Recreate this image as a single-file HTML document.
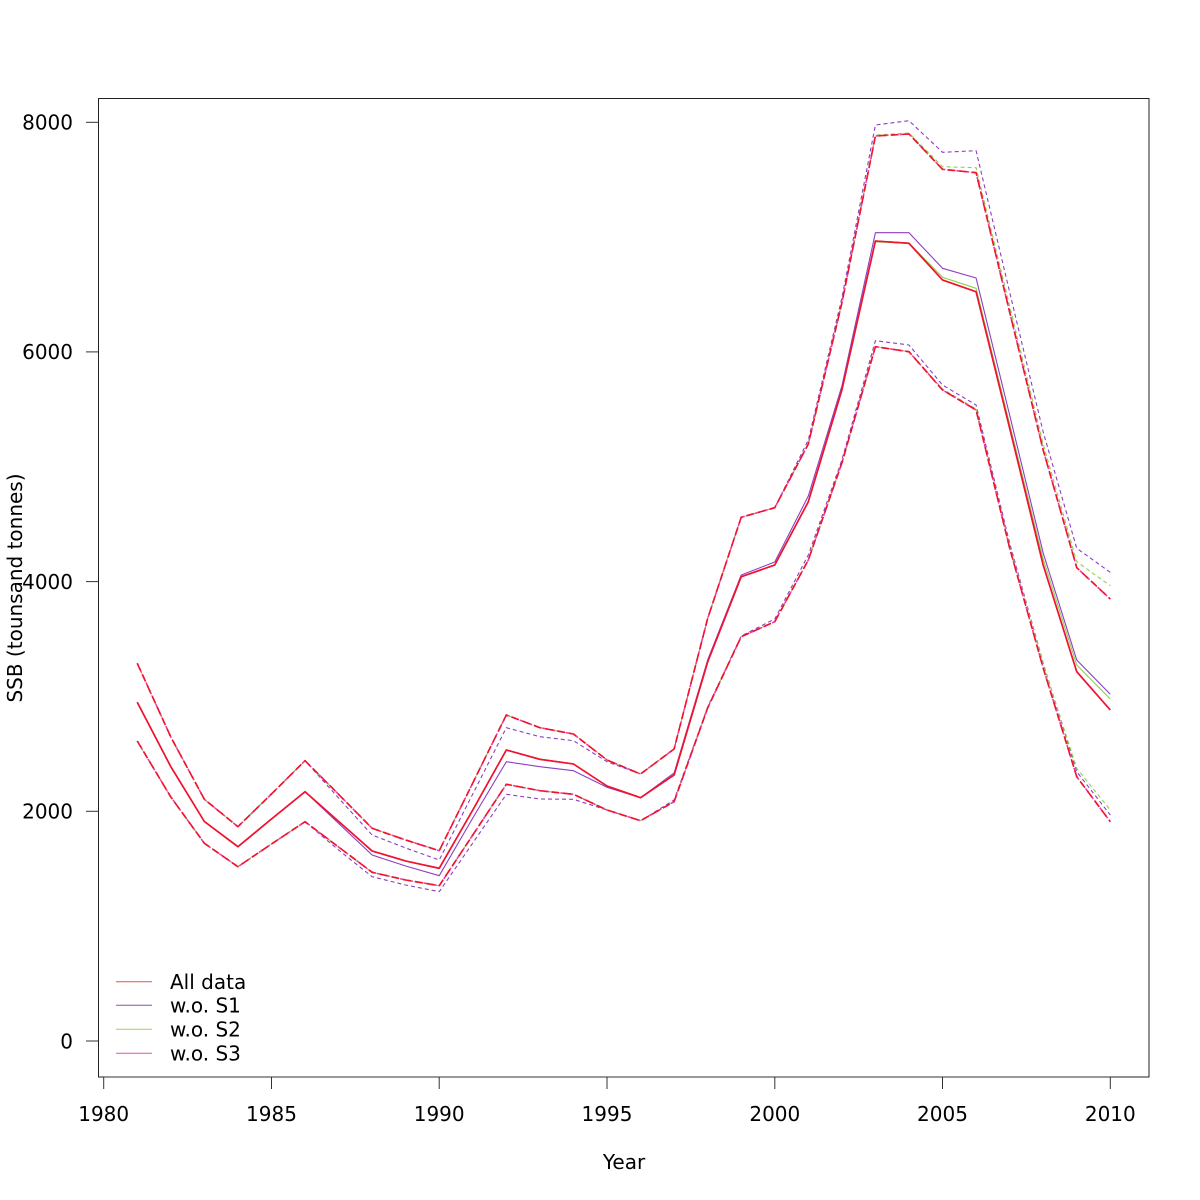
<!DOCTYPE html>
<html>
<head>
<meta charset="utf-8">
<style>
  html,body{margin:0;padding:0;background:#fff;}
  svg{display:block;}
  text{font-family:"DejaVu Sans","Liberation Sans",sans-serif;font-size:20px;fill:#000;}
</style>
</head>
<body>
<svg width="1200" height="1200" viewBox="0 0 1200 1200" xmlns="http://www.w3.org/2000/svg">
  <rect x="0" y="0" width="1200" height="1200" fill="#fff"/>

  <!-- plot box -->
  <rect x="98.5" y="98.5" width="1050.5" height="978.5" fill="none" stroke="#222" stroke-width="1"/>

  <!-- y ticks -->
  <g stroke="#333" stroke-width="1">
    <line x1="86" y1="1041" x2="98.5" y2="1041"/>
    <line x1="86" y1="811.3" x2="98.5" y2="811.3"/>
    <line x1="86" y1="581.6" x2="98.5" y2="581.6"/>
    <line x1="86" y1="351.9" x2="98.5" y2="351.9"/>
    <line x1="86" y1="122.3" x2="98.5" y2="122.3"/>
  </g>
  <g text-anchor="end">
    <text x="73" y="1048.3">0</text>
    <text x="73" y="818.6">2000</text>
    <text x="73" y="588.9">4000</text>
    <text x="73" y="359.2">6000</text>
    <text x="73" y="129.6">8000</text>
  </g>

  <!-- x axis -->
  <g stroke="#333" stroke-width="1">
    <line x1="103.7" y1="1077" x2="1110.3" y2="1077"/>
    <line x1="103.7" y1="1077" x2="103.7" y2="1089"/>
    <line x1="271.5" y1="1077" x2="271.5" y2="1089"/>
    <line x1="439.2" y1="1077" x2="439.2" y2="1089"/>
    <line x1="607" y1="1077" x2="607" y2="1089"/>
    <line x1="774.8" y1="1077" x2="774.8" y2="1089"/>
    <line x1="942.5" y1="1077" x2="942.5" y2="1089"/>
    <line x1="1110.3" y1="1077" x2="1110.3" y2="1089"/>
  </g>
  <g text-anchor="middle">
    <text x="103.7" y="1121">1980</text>
    <text x="271.5" y="1121">1985</text>
    <text x="439.2" y="1121">1990</text>
    <text x="607" y="1121">1995</text>
    <text x="774.8" y="1121">2000</text>
    <text x="942.5" y="1121">2005</text>
    <text x="1110.3" y="1121">2010</text>
  </g>

  <text x="624" y="1169" text-anchor="middle">Year</text>
  <text x="0" y="0" text-anchor="middle" transform="translate(22,588) rotate(-90)">SSB (tounsand tonnes)</text>

  <g fill="none" stroke-linejoin="round">
    <!-- w.o. S1 (purple) -->
    <g stroke="#8b3fc4" stroke-width="1.1">
      <polyline stroke-dasharray="4,3" points="137.25,663.3 170.81,737 204.36,799.3 237.91,826.7 271.47,794 305.02,760.7 338.57,798 372.12,835 405.68,848 439.23,860 472.78,794 506.34,727.7 539.89,736.7 573.44,740.7 607,761.7 640.55,774 674.1,749 707.65,618.5 741.21,517.3 774.76,507.7 808.31,440 841.87,298 875.42,125 908.97,120.7 942.53,152.3 976.08,150.7 1009.63,292 1043.18,432 1076.74,548.3 1110.29,572.3"/>
      <polyline points="137.25,702.3 170.81,766.7 204.36,821.5 237.91,846.7 271.47,819 305.02,791.7 338.57,823.3 372.12,855 405.68,866 439.23,875.7 472.78,818 506.34,761.7 539.89,766.7 573.44,770.7 607,787.3 640.55,797.7 674.1,773 707.65,660 741.21,575 774.76,562 808.31,496 841.87,386 875.42,232.7 908.97,232.7 942.53,268.3 976.08,278 1009.63,415 1043.18,553 1076.74,660 1110.29,694.3"/>
      <polyline stroke-dasharray="4,3" points="137.25,741 170.81,797 204.36,843.3 237.91,866.7 271.47,844 305.02,821.7 338.57,850 372.12,876.7 405.68,885 439.23,891.7 472.78,843 506.34,794.3 539.89,799 573.44,799.3 607,810 640.55,820.7 674.1,800 707.65,707 741.21,636 774.76,619 808.31,555 841.87,460 875.42,340.7 908.97,345 942.53,385 976.08,405 1009.63,543 1043.18,663 1076.74,771.7 1110.29,815"/>
    </g>
    <!-- w.o. S2 (green) -->
    <g stroke="#8fd14f" stroke-width="1.1">
      <polyline stroke-dasharray="4,3" points="137.25,663.3 170.81,737 204.36,799.3 237.91,826.7 271.47,794 305.02,760.7 338.57,794.3 372.12,828.3 405.68,840 439.23,850.7 472.78,783 506.34,715 539.89,727.7 573.44,734 607,760 640.55,774 674.1,749 707.65,618.5 741.21,517.3 774.76,507.7 808.31,444 841.87,303 875.42,135 908.97,133 942.53,166.7 976.08,167.7 1009.63,306 1043.18,444 1076.74,561.7 1110.29,585.7"/>
      <polyline points="137.25,702.3 170.81,766.7 204.36,821.5 237.91,846.7 271.47,819 305.02,791.7 338.57,821.3 372.12,851 405.68,861 439.23,868.3 472.78,810 506.34,750 539.89,759.3 573.44,764 607,786 640.55,797.7 674.1,775 707.65,662 741.21,576.7 774.76,565 808.31,501.7 841.87,390 875.42,242 908.97,243 942.53,277.3 976.08,288.3 1009.63,424 1043.18,559 1076.74,665 1110.29,699"/>
      <polyline stroke-dasharray="4,3" points="137.25,741 170.81,797 204.36,843.3 237.91,866.7 271.47,844 305.02,821.7 338.57,847 372.12,872.3 405.68,880 439.23,885.7 472.78,835 506.34,784.3 539.89,790.7 573.44,794.3 607,810 640.55,820.7 674.1,801.7 707.65,708 741.21,636.7 774.76,621.7 808.31,560 841.87,463 875.42,346.7 908.97,351.7 942.53,389 976.08,409 1009.63,546 1043.18,664 1076.74,768.3 1110.29,810"/>
    </g>
    <!-- w.o. S3 (pink) -->
    <g stroke="#f03ca0" stroke-width="1.6">
      <polyline stroke-dasharray="5,3" stroke-dashoffset="3" points="137.25,663.3 170.81,737 204.36,799.3 237.91,826.7 271.47,794 305.02,760.7 338.57,794.3 372.12,828.3 405.68,840 439.23,850.7 472.78,783 506.34,715 539.89,727.7 573.44,734 607,760 640.55,774 674.1,749 707.65,618.5 741.21,517.3 774.76,507.7 808.31,444 841.87,303 875.42,136 908.97,134 942.53,169.3 976.08,172.7 1009.63,312 1043.18,450 1076.74,567.7 1110.29,599"/>
      <polyline points="137.25,702.3 170.81,766.7 204.36,821.5 237.91,846.7 271.47,819 305.02,791.7 338.57,821.3 372.12,851 405.68,861 439.23,868.3 472.78,810 506.34,750 539.89,759.3 573.44,764 607,786 640.55,797.7 674.1,775 707.65,662 741.21,576.7 774.76,565 808.31,501.7 841.87,390 875.42,241 908.97,243.3 942.53,280 976.08,291.7 1009.63,428 1043.18,565 1076.74,671.7 1110.29,710"/>
      <polyline stroke-dasharray="5,3" stroke-dashoffset="3" points="137.25,741 170.81,797 204.36,843.3 237.91,866.7 271.47,844 305.02,821.7 338.57,847 372.12,872.3 405.68,880 439.23,885.7 472.78,835 506.34,784.3 539.89,790.7 573.44,794.3 607,810 640.55,820.7 674.1,801.7 707.65,708 741.21,636.7 774.76,621.7 808.31,560 841.87,463 875.42,346.7 908.97,351.7 942.53,390 976.08,410 1009.63,548 1043.18,668 1076.74,776.7 1110.29,821.7"/>
    </g>
    <!-- All data (red) -->
    <g stroke="#f01428" stroke-width="1.6">
      <polyline stroke-dasharray="8,4" points="137.25,663.3 170.81,737 204.36,799.3 237.91,826.7 271.47,794 305.02,760.7 338.57,794.3 372.12,828.3 405.68,840 439.23,850.7 472.78,783 506.34,715 539.89,727.7 573.44,734 607,760 640.55,774 674.1,749 707.65,618.5 741.21,517.3 774.76,507.7 808.31,444 841.87,303 875.42,136 908.97,134 942.53,169.3 976.08,172.7 1009.63,312 1043.18,450 1076.74,567.7 1110.29,599"/>
      <polyline points="137.25,702.3 170.81,766.7 204.36,821.5 237.91,846.7 271.47,819 305.02,791.7 338.57,821.3 372.12,851 405.68,861 439.23,868.3 472.78,810 506.34,750 539.89,759.3 573.44,764 607,786 640.55,797.7 674.1,775 707.65,662 741.21,576.7 774.76,565 808.31,501.7 841.87,390 875.42,241 908.97,243.3 942.53,280 976.08,291.7 1009.63,428 1043.18,565 1076.74,671.7 1110.29,710"/>
      <polyline stroke-dasharray="8,4" points="137.25,741 170.81,797 204.36,843.3 237.91,866.7 271.47,844 305.02,821.7 338.57,847 372.12,872.3 405.68,880 439.23,885.7 472.78,835 506.34,784.3 539.89,790.7 573.44,794.3 607,810 640.55,820.7 674.1,801.7 707.65,708 741.21,636.7 774.76,621.7 808.31,560 841.87,463 875.42,346.7 908.97,351.7 942.53,390 976.08,410 1009.63,548 1043.18,668 1076.74,776.7 1110.29,821.7"/>
    </g>
  </g>

  <!-- legend -->
  <g stroke-width="1">
    <line x1="116" y1="981.7" x2="152" y2="981.7" stroke="#e8504a"/>
    <line x1="116" y1="1005.3" x2="152" y2="1005.3" stroke="#8b4cbc"/>
    <line x1="116" y1="1029.3" x2="152" y2="1029.3" stroke="#9ad35a"/>
    <line x1="116" y1="1053.3" x2="152" y2="1053.3" stroke="#e650aa"/>
  </g>
  <text x="170" y="989">All data</text>
  <text x="170" y="1012.6">w.o. S1</text>
  <text x="170" y="1036.6">w.o. S2</text>
  <text x="170" y="1060.6">w.o. S3</text>
</svg>
</body>
</html>
